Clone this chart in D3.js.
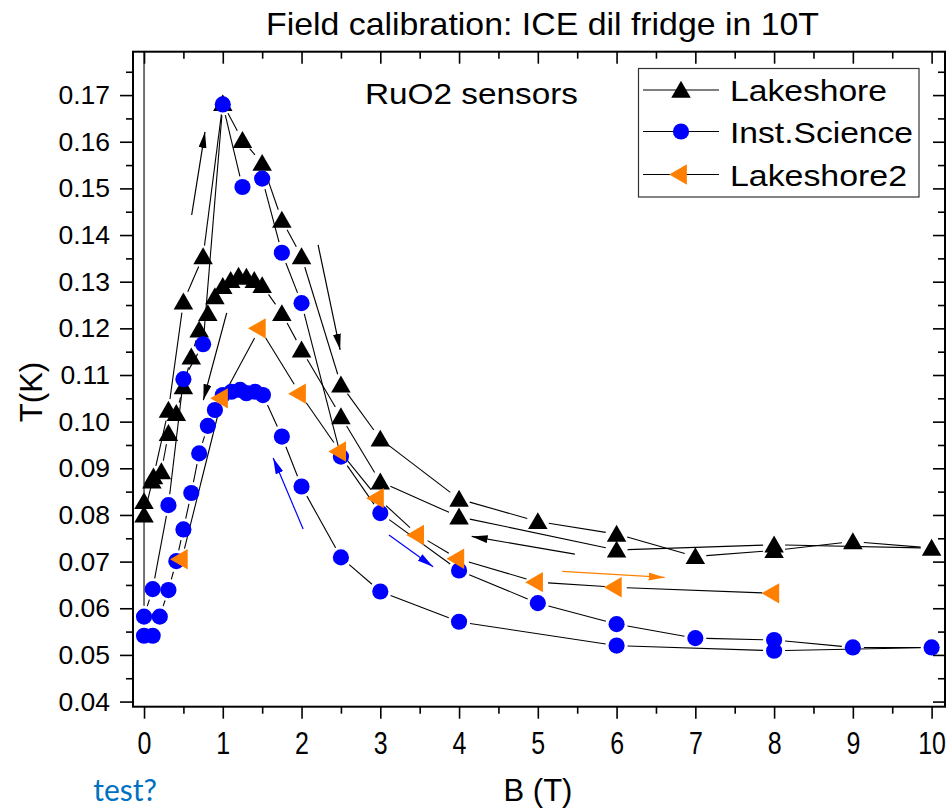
<!DOCTYPE html>
<html>
<head>
<meta charset="utf-8">
<script src="https://cdn.jsdelivr.net/npm/d3@7"></script>
<style>
  body { margin: 0; background: #fff; }
  svg { display: block; font-family: Arial, "Liberation Sans", sans-serif; }
</style>
</head>
<body>
<svg id="chart" width="949" height="810"></svg>
<script>
// ticks
const bTicks = d3.range(0, 11);
const bMinor = d3.range(0.5, 10, 1);
const tTicks = d3.range(4, 18).map(v => v / 100);
const tMinor = d3.range(4, 18).map(v => v / 100 + 0.005);

const seriesNames = ["Lakeshore", "Inst.Science", "Lakeshore2"];

// [B (T), T (K)] in the order the sweeps were measured
const lakeshore = [
  [0, 0.0800], [0.12, 0.0882], [0.31, 0.1025], [0.5, 0.1257], [0.75, 0.1354],
  [1.0, 0.1682], [1.25, 0.1603], [1.5, 0.1554], [1.75, 0.1432], [2.0, 0.1354],
  [2.5, 0.1079], [3.0, 0.0963], [4.0, 0.0834], [5.0, 0.0786], [6.0, 0.0759],
  [7.0, 0.0711], [8.0, 0.0724], [9.0, 0.0743], [10.0, 0.0729], [8.0, 0.0736],
  [6.0, 0.0725], [4.0, 0.0796], [3.0, 0.0871], [2.5, 0.1011], [2.0, 0.1154],
  [1.75, 0.1232], [1.5, 0.1292], [1.4, 0.1303], [1.3, 0.1310], [1.2, 0.1312],
  [1.1, 0.1303], [1.0, 0.1290], [0.9, 0.1268], [0.81, 0.1232], [0.7, 0.1197],
  [0.6, 0.1139], [0.5, 0.1075], [0.41, 0.1018], [0.31, 0.0975], [0.22, 0.0893],
  [0.1, 0.0873], [0, 0.0829]
];

const instScience = [
  [0, 0.25], [0, 0.0582], [0.11, 0.0641], [0.31, 0.0821], [0.5, 0.1091],
  [0.75, 0.1166], [1.0, 0.1680], [1.25, 0.1503], [1.5, 0.1521], [1.75, 0.1362],
  [2.0, 0.1254], [2.5, 0.0925], [3.0, 0.0804], [4.0, 0.0681], [5.0, 0.0611],
  [6.0, 0.0566], [7.0, 0.0536], [8.0, 0.0532], [9.0, 0.0516], [10.0, 0.0516],
  [8.0, 0.0509], [6.0, 0.0520], [4.0, 0.0571], [3.0, 0.0636], [2.5, 0.0709],
  [2.0, 0.0861], [1.75, 0.0968], [1.51, 0.1057], [1.41, 0.1064], [1.3, 0.1061],
  [1.22, 0.1068], [1.11, 0.1064], [1.0, 0.1057], [0.9, 0.1025], [0.81, 0.0991],
  [0.7, 0.0932], [0.6, 0.0847], [0.5, 0.0769], [0.41, 0.0701], [0.31, 0.0639],
  [0.2, 0.0582], [0.11, 0.0541], [0, 0.0541]
];

const lakeshore2 = [
  [0.48, 0.0705], [0.99, 0.1050], [1.47, 0.1200], [1.98, 0.1060], [2.49, 0.0936],
  [2.97, 0.0836], [3.48, 0.0757], [3.99, 0.0706], [4.99, 0.0656], [5.99, 0.0645],
  [7.99, 0.0632]
];

// sweep direction arrows: [B0, T0, B1, T1] and which sensor they belong to
const arrows = [
  [0.605, 0.1443, 0.774, 0.1621],
  [1.05, 0.1233, 0.753, 0.1046],
  [2.21, 0.1379, 2.49, 0.1154],
  [5.47, 0.0716, 4.16, 0.0754],
  [3.11, 0.0757, 3.67, 0.0689],
  [5.31, 0.0679, 6.61, 0.0666],
  [2.02, 0.0770, 1.64, 0.0922]
];
const arrowSeries = ["Lakeshore", "Lakeshore", "Lakeshore", "Lakeshore",
                     "Inst.Science", "Lakeshore2", "Inst.Science"];

const colors = { "Lakeshore": "#000000", "Inst.Science": "#0000ff", "Lakeshore2": "#ff8000" };
const seriesData = { "Lakeshore": lakeshore, "Inst.Science": instScience, "Lakeshore2": lakeshore2 };

const svg = d3.select("#chart");
const pLeft = 133, pRight = 945, pTop = 51.7, pBottom = 706.7;

const x = d3.scaleLinear().domain([-0.14, 10.17]).range([pLeft, pRight]);
const y = d3.scaleLinear().domain([0.0389, 0.1793]).range([pBottom, pTop]);

function symbolFor(name) {
  if (name === "Inst.Science") return d3.symbol().type(d3.symbolCircle).size(205);
  if (name === "Lakeshore2") return d3.symbol().type(d3.symbolTriangle).size(180);
  return d3.symbol().type(d3.symbolTriangle).size(165);
}
function rotFor(name) { return name === "Lakeshore2" ? -90 : 0; }

const defs = svg.append("defs");
defs.append("clipPath").attr("id", "plotclip")
  .append("rect").attr("x", pLeft).attr("y", pTop)
  .attr("width", pRight - pLeft).attr("height", pBottom - pTop);

// ---- axes ----
const axes = svg.append("g");

const gx = axes.append("g").attr("transform", `translate(0,${pBottom})`)
  .call(d3.axisBottom(x).tickValues(bTicks).tickSize(12).tickSizeOuter(0).tickPadding(13));
// x labels look squeezed horizontally
gx.selectAll(".tick text").attr("font-size", 32).attr("fill", "#000")
  .attr("transform", "scale(0.78,1)");
axes.append("g").attr("transform", `translate(0,${pBottom})`)
  .call(d3.axisBottom(x).tickValues(bMinor).tickSize(7).tickFormat(""));

const gy = axes.append("g").attr("transform", `translate(${pLeft},0)`)
  .call(d3.axisLeft(y).tickValues(tTicks).tickSize(13).tickSizeOuter(0).tickPadding(10)
    .tickFormat(d3.format(".2f")));
gy.selectAll(".tick text").attr("font-size", 26.5).attr("fill", "#000");
axes.append("g").attr("transform", `translate(${pLeft},0)`)
  .call(d3.axisLeft(y).tickValues(tMinor).tickSize(7).tickFormat(""));

axes.append("g").attr("transform", `translate(0,${pTop})`)
  .call(d3.axisTop(x).tickValues(bTicks).tickSize(-12).tickFormat(""));
axes.append("g").attr("transform", `translate(0,${pTop})`)
  .call(d3.axisTop(x).tickValues(bMinor).tickSize(-7).tickFormat(""));
axes.append("g").attr("transform", `translate(${pRight},0)`)
  .call(d3.axisRight(y).tickValues(tTicks).tickSize(-12).tickFormat(""));
axes.append("g").attr("transform", `translate(${pRight},0)`)
  .call(d3.axisRight(y).tickValues(tMinor).tickSize(-7).tickFormat(""));

axes.selectAll(".domain").remove();
axes.selectAll(".tick line").attr("stroke", "#000").attr("stroke-width", 1.6);

svg.append("rect").attr("x", pLeft).attr("y", pTop)
  .attr("width", pRight - pLeft).attr("height", pBottom - pTop)
  .attr("fill", "none").attr("stroke", "#000").attr("stroke-width", 2);

// ---- arrows ----
Object.keys(colors).forEach((k, i) => {
  defs.append("marker").attr("id", "head" + i)
    .attr("viewBox", "0 0 16 8").attr("refX", 16).attr("refY", 4)
    .attr("markerWidth", 16).attr("markerHeight", 8)
    .attr("markerUnits", "userSpaceOnUse").attr("orient", "auto")
    .append("path").attr("d", "M0,0 L16,4 L0,8 Z").attr("fill", colors[k]);
});

const plot = svg.append("g").attr("clip-path", "url(#plotclip)");

plot.append("g").selectAll("line").data(arrows).join("line")
  .attr("x1", d => x(d[0])).attr("y1", d => y(d[1]))
  .attr("x2", d => x(d[2])).attr("y2", d => y(d[3]))
  .attr("stroke", (d, i) => colors[arrowSeries[i]])
  .attr("stroke-width", 1.2)
  .attr("marker-end", (d, i) => `url(#head${seriesNames.indexOf(arrowSeries[i])})`);

// ---- connecting lines, with gaps around the symbols ----
function gapped(pts, gap) {
  const segs = [];
  for (let i = 0; i < pts.length - 1; i++) {
    const x0 = x(pts[i][0]), y0 = y(pts[i][1]);
    const x1 = x(pts[i + 1][0]), y1 = y(pts[i + 1][1]);
    const L = Math.hypot(x1 - x0, y1 - y0);
    if (L <= 2 * gap) continue;
    const ux = (x1 - x0) / L, uy = (y1 - y0) / L;
    segs.push([x0 + ux * gap, y0 + uy * gap, x1 - ux * gap, y1 - uy * gap]);
  }
  return segs;
}

seriesNames.forEach(name => {
  plot.append("g").selectAll("line").data(gapped(seriesData[name], 11)).join("line")
    .attr("x1", d => d[0]).attr("y1", d => d[1])
    .attr("x2", d => d[2]).attr("y2", d => d[3])
    .attr("stroke", "#000").attr("stroke-width", 1.1);
});

seriesNames.forEach(name => {
  plot.append("g").selectAll("path").data(seriesData[name]).join("path")
    .attr("d", symbolFor(name))
    .attr("transform", d => `translate(${x(d[0])},${y(d[1]) + (name === "Lakeshore" ? 2 : 0)}) rotate(${rotFor(name)})`)
    .attr("fill", colors[name]);
});

// ---- legend ----
const legend = svg.append("g");
legend.append("rect").attr("x", 638.5).attr("y", 68.5).attr("width", 280.5).attr("height", 128.5)
  .attr("fill", "#fff").attr("stroke", "#333").attr("stroke-width", 1.2);
const rowY = [90, 131.5, 174.5];
const textLen = [157, 183, 177];
seriesNames.forEach((name, i) => {
  const r = legend.append("g").attr("transform", `translate(0,${rowY[i]})`);
  r.append("line").attr("x1", 643).attr("x2", 719).attr("stroke", "#000").attr("stroke-width", 1.1);
  r.append("path").attr("d", symbolFor(name))
    .attr("transform", `translate(681,${name === "Lakeshore" ? 2 : 0}) rotate(${rotFor(name)})`)
    .attr("fill", colors[name]);
  r.append("text").attr("x", 730).attr("y", 11).attr("font-size", 29)
    .attr("textLength", textLen[i]).attr("lengthAdjust", "spacingAndGlyphs")
    .text(name);
});

// ---- text ----
svg.append("text").attr("x", 266).attr("y", 35).attr("font-size", 32)
  .attr("textLength", 553).attr("lengthAdjust", "spacingAndGlyphs")
  .text("Field calibration: ICE dil fridge in 10T");
svg.append("text").attr("x", 365).attr("y", 104).attr("font-size", 29)
  .attr("textLength", 213).attr("lengthAdjust", "spacingAndGlyphs")
  .text("RuO2 sensors");
svg.append("text").attr("x", 538).attr("y", 801).attr("font-size", 31)
  .attr("text-anchor", "middle")
  .text("B (T)");
svg.append("text").attr("transform", "translate(42,392) rotate(-90)")
  .attr("font-size", 31).attr("text-anchor", "middle")
  .text("T(K)");
svg.append("text").attr("x", 157).attr("y", 801).attr("font-size", 30)
  .attr("text-anchor", "end").attr("fill", "#0070c0")
  .attr("font-family", "Lato, 'Open Sans', sans-serif")
  .text("test?");
</script>
</body>
</html>
